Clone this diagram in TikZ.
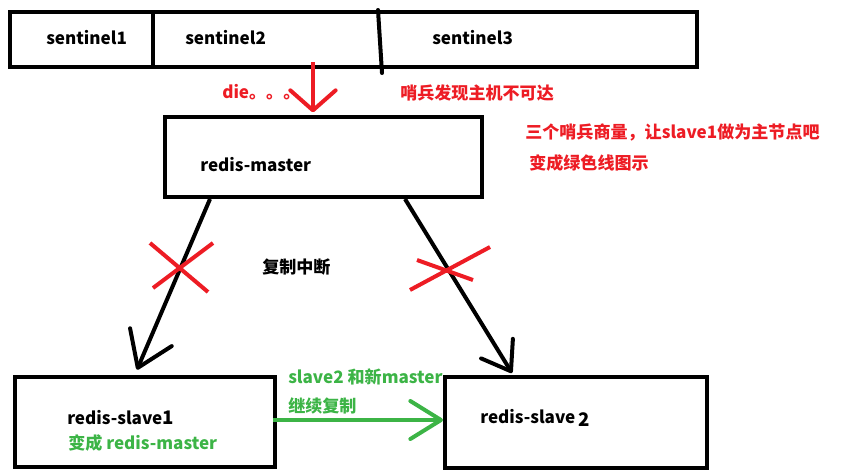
\documentclass[tikz,border=0pt]{standalone}
\usepackage{fontspec}
\setmainfont{Noto Sans CJK SC}
\usetikzlibrary{arrows.meta}
\definecolor{paintred}{RGB}{237,28,36}
\definecolor{paintgreen}{RGB}{60,180,70}
\tikzset{
  box/.style={draw,line width=3pt,inner sep=0pt},
  lbl/.style={anchor=west,inner sep=0pt,font=\bfseries\fontsize{12.8}{15}\selectfont},
  vhead/.style 2 args={line width=3pt,-{Straight Barb[round,length=#1,width=#2]}}
}
\begin{document}
\begin{tikzpicture}[x=0.75pt,y=-0.75pt]
\useasboundingbox (0,0) rectangle (841,472);
% sentinels
\node[box,minimum width=515.25pt,minimum height=41.25pt] (bar) at (353.5,39.5) {};
\draw[line width=3pt] ([xshift=108.75pt]bar.north west) -- ([xshift=108.75pt]bar.south west);
\draw[line width=3pt,line cap=round] ([xshift=277.5pt]bar.north west) -- ([xshift=280.5pt,yshift=-3pt]bar.south west);
\node[lbl] (sen1) at (46,38) {sentinel1};
\node[lbl] (sen2) at (185,38) {sentinel2};
\node[lbl] (sen3) at (432,38) {sentinel3};
% master and slaves
\node[box,minimum width=237.75pt,minimum height=60pt] (master) at (323.5,157) {};
\node[box,minimum width=195pt,minimum height=67.5pt] (slave1) at (145,422) {};
\node[box,minimum width=196.5pt,minimum height=68.25pt] (slave2) at (576,422.5) {};
\node[lbl] (mastertxt) at (200,165) {redis-master};
\node[lbl] (slave1txt) at (67,418) {redis-slave{\fontsize{14}{15}\selectfont 1}};
\node[lbl] (slave2txt) at (480,418) {redis-slave\,\raisebox{-2.5pt}{\fontsize{14}{15}\selectfont 2}};
% red notes
\node[lbl,text=paintred] (die) at (222,92) {die。。。};
\node[lbl,text=paintred] (found) at (400,93) {哨兵发现主机不可达};
\node[lbl,text=paintred] (vote) at (525,132) {三个哨兵商量，让slave1做为主节点吧};
\node[lbl,text=paintred] (vote2) at (529,163) {变成绿色线图示};
\node[lbl] (broken) at (262,267) {复制中断};
% green notes
\node[lbl,text=paintgreen] (newm) at (68,443) {变成 redis-master};
\node[lbl,text=paintgreen] (cont) at (288,377) {slave2 和新master};
\node[lbl,text=paintgreen] (cont2) at (288,406) {继续复制};
% connectors
\draw[vhead={15pt}{34pt},paintred] ([xshift=-30.4pt,yshift=5pt]bar.south) -- ([xshift=-7.9pt,yshift=2pt]master.north);
\draw[vhead={25pt}{34pt}] ([xshift=35.25pt]master.south west) -- ([xshift=-6pt,yshift=4pt]slave1.north);
\draw[vhead={20pt}{28pt}] ([xshift=-59.25pt]master.south east) -- ([xshift=-48pt,yshift=1.5pt]slave2.north);
\draw[vhead={23pt}{28.5pt},paintgreen] ([xshift=-3pt,yshift=1.5pt]slave1.east) -- ([yshift=1.5pt]slave1.east -| slave2.west);
% crosses
\draw[paintred,line width=3pt] (150,243) -- (208,292) (213,243) -- (153,288);
\draw[paintred,line width=3pt] (417,260) -- (473,280) (490,247) -- (410,290);
\end{tikzpicture}
\end{document}
